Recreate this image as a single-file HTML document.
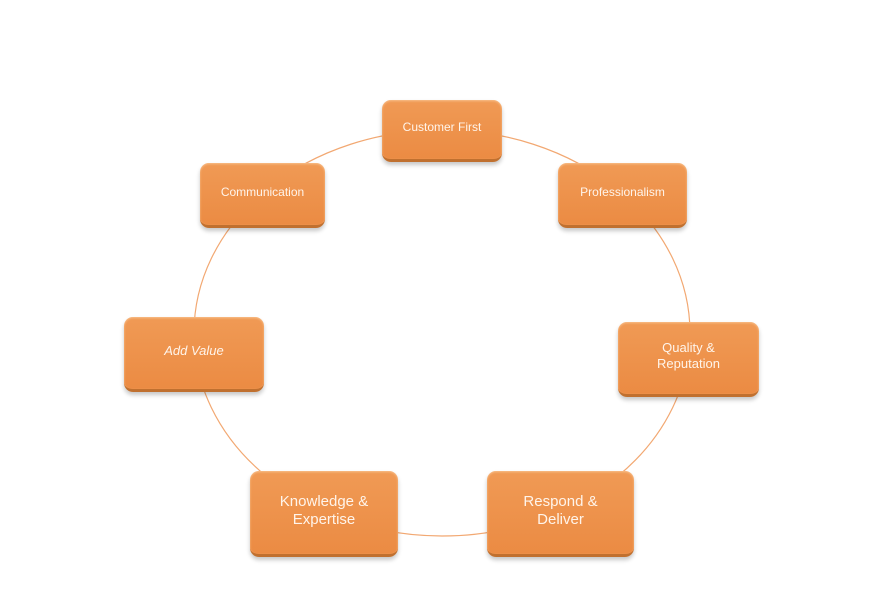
<!DOCTYPE html>
<html><head><style>
body{margin:0;width:885px;height:600px;background:#fff;position:relative;overflow:hidden;font-family:"Liberation Sans",sans-serif}
.b{position:absolute;box-sizing:border-box;border-radius:9px;background:linear-gradient(#f09a55,#eb8b43);border-bottom:3px solid #c0702f;box-shadow:0 3px 4px rgba(0,0,0,.22),inset 0 1px 2px rgba(255,220,180,.6);color:#fff4ea;display:flex;align-items:center;justify-content:center;text-align:center;line-height:1.2;padding-bottom:4px}
</style></head><body>
<svg width="885" height="600" style="position:absolute;left:0;top:0"><ellipse cx="442" cy="333" rx="248" ry="203" fill="none" stroke="#f2a872" stroke-width="1.2"/></svg>
<div class="b" style="left:382px;top:100px;width:120px;height:62px;font-size:12px">Customer First</div>
<div class="b" style="left:200px;top:163px;width:125px;height:65px;font-size:12px">Communication</div>
<div class="b" style="left:558px;top:163px;width:129px;height:65px;font-size:12px">Professionalism</div>
<div class="b" style="left:124px;top:317px;width:140px;height:75px;font-size:13px;font-style:italic">Add Value</div>
<div class="b" style="left:618px;top:322px;width:141px;height:75px;font-size:13px">Quality &amp;<br>Reputation</div>
<div class="b" style="left:250px;top:471px;width:148px;height:86px;font-size:15px">Knowledge &amp;<br>Expertise</div>
<div class="b" style="left:487px;top:471px;width:147px;height:86px;font-size:15px">Respond &amp;<br>Deliver</div>
</body></html>
